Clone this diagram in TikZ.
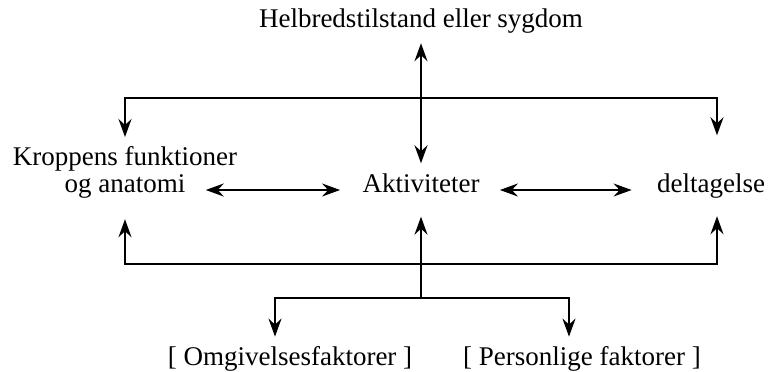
\documentclass[tikz,border=0pt]{standalone}
\usepackage{fontspec}
\setmainfont{Liberation Serif}
\usetikzlibrary{arrows.meta}

\begin{document}
\begin{tikzpicture}[x=0.5pt, y=-0.5pt,
	every node/.style={inner sep=0pt, anchor=base, font=\fontsize{13.5}{16}\selectfont},
	link/.style={line width=0.9pt, >={Stealth[length=9pt,width=6.5pt,inset=3pt]}}]
\useasboundingbox (0,0) rectangle (773,371);
% boxes
\node (helbred) at (421,27) {Helbredstilstand eller sygdom};
\node (kropp1) at (125,165) {Kroppens funktioner};
\node (kropp2) at (125,192) {og anatomi};
\node (aktiv) at (421,192) {Aktiviteter};
\node (deltag) at (711,192) {deltagelse};
\node (omgiv) at (290,365) {[ Omgivelsesfaktorer ]};
\node (person) at (582,365) {[ Personlige faktorer ]};
% junctions
\coordinate (top) at (421,98);
\coordinate (bot) at (421,264);
\coordinate (mid) at (421,298);
% arrows
\draw[link, <->, shorten <=5pt, shorten >=4.8pt] (helbred.south) -- (aktiv.north);
\draw[link, ->, shorten >=4.3pt] (top) -| (kropp1.north);
\draw[link, ->, shorten >=18.8pt] (top) -| ([xshift=3pt]deltag.north);
\draw[link, <->, shorten <=10pt, shorten >=11pt] ([yshift=1pt]kropp2.base east) -- ([yshift=1pt]aktiv.base west);
\draw[link, <->, shorten <=10pt, shorten >=12.5pt] ([yshift=1pt]aktiv.base east) -- ([yshift=1pt]deltag.base west);
\draw[link, ->, shorten >=10.5pt] (bot) -| (kropp2.south);
\draw[link, ->, shorten >=9pt] (bot) -| ([xshift=3pt]deltag.south);
\draw[link, ->, shorten >=12pt] (mid) -- (aktiv.south);
\draw[link, ->, shorten >=4.5pt] (mid) -| ([xshift=-7.5pt]omgiv.north);
\draw[link, ->, shorten >=4.5pt] (mid) -| ([xshift=-6.5pt]person.north);
\end{tikzpicture}
\end{document}
